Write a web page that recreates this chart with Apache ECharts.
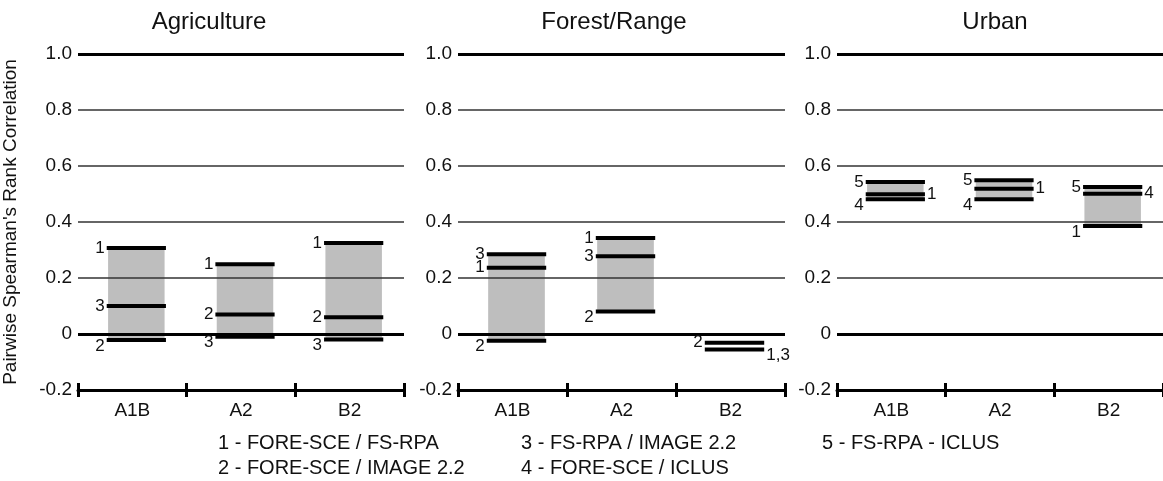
<!DOCTYPE html>
<html>
<head>
<meta charset="utf-8">
<script src="https://cdn.jsdelivr.net/npm/echarts@6/dist/echarts.min.js"></script>
<style>
html, body { margin: 0; padding: 0; background: #fff; }
#chart { width: 1163px; height: 481px; }
</style>
</head>
<body>
<div id="chart"></div>
<script>
const categories = ['A1B', 'A2', 'B2'];
const panelTitles = ['Agriculture', 'Forest/Range', 'Urban'];
const yMin = -0.2, yMax = 1.0, yStep = 0.2;

// Agriculture, pairs 1..3
const agriP1 = [0.307, 0.249, 0.325];
const agriP2 = [-0.021, 0.070, 0.060];
const agriP3 = [0.100, -0.010, -0.020];
// Forest/Range
const forestP1 = [0.237, 0.343, -0.055];
const forestP2 = [-0.024, 0.080, -0.031];
const forestP3 = [0.285, 0.278, -0.055];
// Urban, pairs 1, 4, 5
const urbanP1 = [0.499, 0.519, 0.386];
const urbanP4 = [0.481, 0.481, 0.501];
const urbanP5 = [0.543, 0.549, 0.525];

const legendLines = [
    '1 - FORE-SCE / FS-RPA',
    '2 - FORE-SCE / IMAGE 2.2',
    '3 - FS-RPA / IMAGE 2.2',
    '4 - FORE-SCE / ICLUS',
    '5 - FS-RPA - ICLUS'
];

const panels = [
    [['1', agriP1], ['2', agriP2], ['3', agriP3]],
    [['1', forestP1], ['2', forestP2], ['3', forestP3]],
    [['1', urbanP1], ['4', urbanP4], ['5', urbanP5]]
];
// labels drawn right of the line instead of left: [panel, category, label]
const rightLabels = [[1, 2, '1,3'], [2, 0, '1'], [2, 1, '1'], [2, 2, '4']];
// categories without grey shading
const noShade = [[1, 2]];

const gridLeft = [77, 458, 837];
const gridWidth = [327, 327, 326];
const gridTop = 54, gridHeight = 336;
const font = '"Liberation Sans", Arial, sans-serif';

function isRight(p, c, lab) {
    return rightLabels.some(function (r) { return r[0] === p && r[1] === c && r[2] === lab; });
}

const grids = [], xAxes = [], yAxes = [], series = [];

for (let p = 0; p < 3; p++) {
    grids.push({ left: gridLeft[p], width: gridWidth[p], top: gridTop, height: gridHeight });
    xAxes.push({
        gridIndex: p, type: 'category', data: categories, position: 'bottom',
        axisLine: { show: true, onZero: false, lineStyle: { color: '#000', width: 3 } },
        axisTick: { show: true, length: 7, lineStyle: { color: '#000', width: 3 } },
        axisLabel: { fontSize: 19, color: '#111', margin: 11, fontFamily: font },
        splitLine: { show: false }
    });
    // upper half of the crossing ticks
    xAxes.push({
        gridIndex: p, type: 'category', data: categories, position: 'top', offset: -gridHeight,
        axisLine: { show: false, onZero: false },
        axisTick: { show: true, length: 7, lineStyle: { color: '#000', width: 3 } },
        axisLabel: { show: false },
        splitLine: { show: false }
    });
    const ya = {
        gridIndex: p, type: 'value', min: yMin, max: yMax, interval: yStep,
        axisLine: { show: false }, axisTick: { show: false },
        axisLabel: {
            fontSize: 19, color: '#111', margin: 6, fontFamily: font,
            formatter: function (v) { return Math.abs(v) < 1e-9 ? '0' : v.toFixed(1); }
        },
        splitLine: { show: true, showMinLine: false, lineStyle: { color: '#333', width: 1.5 } }
    };
    if (p === 0) {
        ya.name = "Pairwise Spearman's Rank Correlation";
        ya.nameLocation = 'middle';
        ya.nameGap = 58;
        ya.nameTextStyle = { fontSize: 19, color: '#111', fontFamily: font };
    }
    yAxes.push(ya);

    // shaded ranges and pair lines
    const shade = [], lines = [];
    for (let c = 0; c < categories.length; c++) {
        const vals = panels[p].map(function (d) { return d[1][c]; });
        const skip = noShade.some(function (n) { return n[0] === p && n[1] === c; });
        if (!skip) shade.push([c, Math.min.apply(null, vals), Math.max.apply(null, vals)]);
        // merge coincident pairs
        const merged = [];
        panels[p].forEach(function (d) {
            const v = d[1][c];
            const m = merged.find(function (x) { return Math.abs(x.v - v) < 1e-6; });
            if (m) m.lab += ',' + d[0]; else merged.push({ v: v, lab: d[0] });
        });
        merged.sort(function (a, b) { return a.v - b.v; });
        merged.forEach(function (m, i) {
            lines.push([c, m.v, m.lab, isRight(p, c, m.lab) ? 1 : 0, i === 0 ? 1 : 0]);
        });
    }

    series.push({
        type: 'custom', xAxisIndex: p * 2, yAxisIndex: p, z: -1, silent: true,
        data: shade,
        renderItem: function (params, api) {
            const top = api.coord([api.value(0), api.value(2)]);
            const bot = api.coord([api.value(0), api.value(1)]);
            const w = api.size([1, 0])[0] * 0.52;
            return {
                type: 'rect',
                shape: { x: top[0] - w / 2 + 4, y: top[1], width: w, height: bot[1] - top[1] },
                style: { fill: '#bebebe' }
            };
        }
    });

    series.push({
        type: 'custom', xAxisIndex: p * 2, yAxisIndex: p, z: 5, silent: true,
        data: lines,
        renderItem: function (params, api) {
            const pt = api.coord([api.value(0), api.value(1)]);
            const w = api.size([1, 0])[0] * 0.545;
            const x0 = pt[0] - w / 2 + 4;
            const right = api.value(3) === 1;
            const low = api.value(4) === 1;
            const lab = lines[params.dataIndex][2];
            return {
                type: 'group',
                children: [{
                    type: 'rect',
                    shape: { x: x0, y: pt[1] - 2, width: w, height: 4 },
                    style: { fill: '#000' }
                }, {
                    type: 'text',
                    style: {
                        text: lab,
                        x: right ? x0 + w + 2 : x0 - 2,
                        y: pt[1] + (low ? 6 : 0),
                        fill: '#111',
                        font: '17px ' + font,
                        align: right ? 'left' : 'right',
                        textAlign: right ? 'left' : 'right',
                        verticalAlign: 'middle',
                        textVerticalAlign: 'middle'
                    }
                }]
            };
        },
        markLine: {
            silent: true, symbol: 'none', label: { show: false },
            lineStyle: { color: '#000', width: 3, type: 'solid' },
            data: [{ yAxis: 0 }, { yAxis: 1 }]
        }
    });
}

const titleX = [209, 614, 995];
const graphics = panelTitles.map(function (t, i) {
    return {
        type: 'text', x: titleX[i], y: 22,
        style: { text: t, font: '24px ' + font, fill: '#111', align: 'center', textAlign: 'center', verticalAlign: 'middle', textVerticalAlign: 'middle' }
    };
});
const legendPos = [[218, 443], [218, 468], [521, 443], [521, 468], [822, 443]];
legendLines.forEach(function (t, i) {
    graphics.push({
        type: 'text', x: legendPos[i][0], y: legendPos[i][1],
        style: { text: t, font: '20px ' + font, fill: '#111', align: 'left', textAlign: 'left', verticalAlign: 'middle', textVerticalAlign: 'middle' }
    });
});

const myChart = echarts.init(document.getElementById('chart'));
myChart.setOption({
    animation: false,
    backgroundColor: '#fff',
    grid: grids,
    xAxis: xAxes,
    yAxis: yAxes,
    series: series,
    graphic: graphics
});
</script>
</body>
</html>
